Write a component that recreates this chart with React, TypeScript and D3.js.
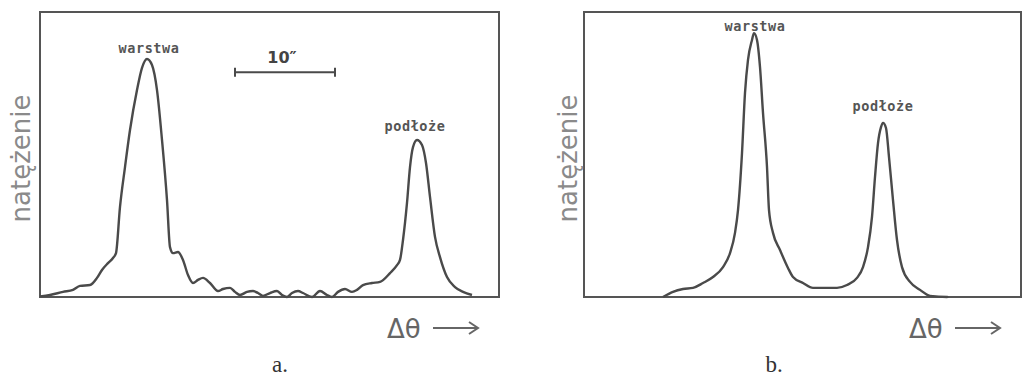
import React from "react";
import * as d3 from "d3";

// Δθ in arcseconds (10″ bar = 10 units), intensity in % of frame height
const profileA = [
  [0, 0.2], [1.0, 0.7], [2.3, 1.8], [3.3, 2.5], [4.0, 3.9], [5.0, 4.2], [5.7, 6.7],
  [6.2, 9.5], [6.8, 11.9], [7.3, 13.7], [7.6, 15.4], [8.0, 31.6], [8.5, 45.6],
  [9.0, 58.6], [9.7, 72.6], [10.2, 80.4], [10.7, 83.5], [11.2, 81.4], [11.7, 72.6],
  [12.2, 55.1], [12.7, 34.0], [13.0, 17.5], [13.3, 15.4], [13.8, 15.8], [14.3, 13.0],
  [14.8, 7.7], [15.3, 4.9], [15.8, 6.0], [16.3, 6.7], [17.0, 4.9], [17.8, 2.1],
  [18.3, 2.8], [19.0, 3.2], [19.5, 1.8], [20.0, 0.7], [20.7, 1.8], [21.3, 2.1],
  [21.8, 1.4], [22.3, 0.4], [23.0, 1.4], [23.7, 2.1], [24.2, 0.7], [24.7, 0],
  [25.2, 1.4], [25.8, 2.1], [26.3, 1.4], [27.2, 0], [28.0, 2.1], [28.7, 0.7],
  [29.2, 0], [29.8, 1.8], [30.5, 2.8], [31.2, 1.8], [31.7, 2.5], [32.3, 4.2],
  [33.2, 4.9], [34.0, 5.3], [35.0, 8.4], [35.7, 11.2], [36.0, 13.0], [36.3, 20.0],
  [36.7, 33.0], [37.0, 45.6], [37.3, 52.6], [37.7, 55.1], [38.2, 53.3], [38.6, 47.0],
  [39.0, 35.1], [39.5, 21.1], [40.0, 14.0], [40.7, 7.0], [41.5, 3.5], [42.3, 1.8],
  [43.2, 0.7],
];

const profileB = [
  [7.9, 0], [8.9, 1.8], [9.9, 2.8], [10.9, 3.2], [11.9, 4.9], [12.9, 7.0], [13.9, 10.5],
  [14.6, 15.4], [15.1, 22.5], [15.4, 30.5], [15.8, 50.5], [16.1, 71.6], [16.4, 83.2],
  [16.8, 90.2], [17.0, 92.6], [17.3, 90.2], [17.6, 80.7], [17.9, 64.6], [18.3, 45.6],
  [18.5, 30.5], [18.9, 22.5], [19.6, 16.5], [20.4, 10.2], [20.9, 7.0], [21.9, 4.9],
  [22.9, 3.2], [23.9, 3.2], [25.3, 3.2], [26.3, 4.2], [27.3, 6.7], [27.9, 10.5],
  [28.4, 17.5], [28.8, 28.1], [29.1, 42.1], [29.4, 54.0], [29.7, 59.6], [29.9, 61.1],
  [30.2, 59.3], [30.5, 49.1], [30.9, 34.0], [31.3, 20.0], [31.8, 10.5], [32.6, 5.3],
  [33.6, 2.5], [34.6, 0.4], [36.3, 0], [36.4, 0.3],
];

const peakLabelsA = [
  { text: "warstwa", x: 10.9, y: 85.6 },
  { text: "podłoże", x: 37.5, y: 58.2 },
];
const peakLabelsB = [
  { text: "warstwa", x: 17.1, y: 93.3 },
  { text: "podłoże", x: 29.9, y: 65.2 },
];

const scaleBar = { from: 19.5, to: 29.5, level: 78.9, label: "10″" };

const yLabel = "natężenie";
const xLabel = "Δθ";

const ink = "#4a4a4a";

const Panel = ({ x0, x1, domain, profile, labels, caption, yLabelX, bar }) => {
  const top = 12;
  const bottom = 297;
  const x = d3.scaleLinear().domain(domain).range([x0, x1]);
  const y = d3.scaleLinear().domain([0, 100]).range([bottom, top]);
  const line = d3
    .line()
    .x((d) => x(d[0]))
    .y((d) => y(d[1]))
    .curve(d3.curveMonotoneX);

  return (
    <g>
      <rect
        x={x0}
        y={top}
        width={x1 - x0}
        height={bottom - top}
        fill="none"
        stroke="#555"
        strokeWidth={2}
      />
      <path d={line(profile)} fill="none" stroke={ink} strokeWidth={2.4} strokeLinejoin="round" />
      {labels.map((l) => (
        <text
          key={l.text}
          x={x(l.x)}
          y={y(l.y)}
          textAnchor="middle"
          fontFamily="DejaVu Sans Mono"
          fontWeight="bold"
          fontSize={13.5}
          letterSpacing={0.6}
          fill="#555"
        >
          {l.text}
        </text>
      ))}
      {bar && (
        <g stroke={ink} strokeWidth={2}>
          <line x1={x(bar.from)} x2={x(bar.to)} y1={y(bar.level)} y2={y(bar.level)} />
          <line x1={x(bar.from)} x2={x(bar.from)} y1={y(bar.level) - 4.5} y2={y(bar.level) + 4.5} />
          <line x1={x(bar.to)} x2={x(bar.to)} y1={y(bar.level) - 4.5} y2={y(bar.level) + 4.5} />
          <text
            x={(x(bar.from) + x(bar.to)) / 2 - 3}
            y={y(bar.level) - 9}
            textAnchor="middle"
            fontFamily="DejaVu Sans"
            fontWeight="bold"
            fontSize={16}
            stroke="none"
            fill="#444"
          >
            {bar.label}
          </text>
        </g>
      )}
      <text
        transform={`translate(${yLabelX},${(top + bottom) / 2 + 4}) rotate(-90)`}
        textAnchor="middle"
        fontFamily="DejaVu Sans"
        fontSize={26}
        fill="#8a8a8a"
      >
        {yLabel}
      </text>
      <g>
        <text
          x={x1 - 112}
          y={338}
          fontFamily="DejaVu Sans"
          fontSize={26}
          fill="#666"
        >
          {xLabel}
        </text>
        <line x1={x1 - 66} x2={x1 - 22} y1={328} y2={328} stroke="#666" strokeWidth={2} />
        <path
          d={`M${x1 - 30},${322} L${x1 - 21},${328} L${x1 - 30},${334}`}
          fill="none"
          stroke="#666"
          strokeWidth={2}
        />
      </g>
      <text
        x={caption.x}
        y={372}
        textAnchor="middle"
        fontFamily="Liberation Serif"
        fontSize={23}
        fill="#333"
      >
        {caption.text}
      </text>
    </g>
  );
};

export default function App() {
  return (
    <svg
      width={1022}
      height={376}
      style={{ position: "absolute", left: 0, top: 0, background: "#fff" }}
    >
      <Panel
        x0={40}
        x1={499}
        domain={[0, 45.9]}
        profile={profileA}
        labels={peakLabelsA}
        caption={{ text: "a.", x: 280 }}
        yLabelX={30}
        bar={scaleBar}
      />
      <Panel
        x0={584}
        x1={1021}
        domain={[0, 43.7]}
        profile={profileB}
        labels={peakLabelsB}
        caption={{ text: "b.", x: 774 }}
        yLabelX={577}
        bar={null}
      />
    </svg>
  );
}
